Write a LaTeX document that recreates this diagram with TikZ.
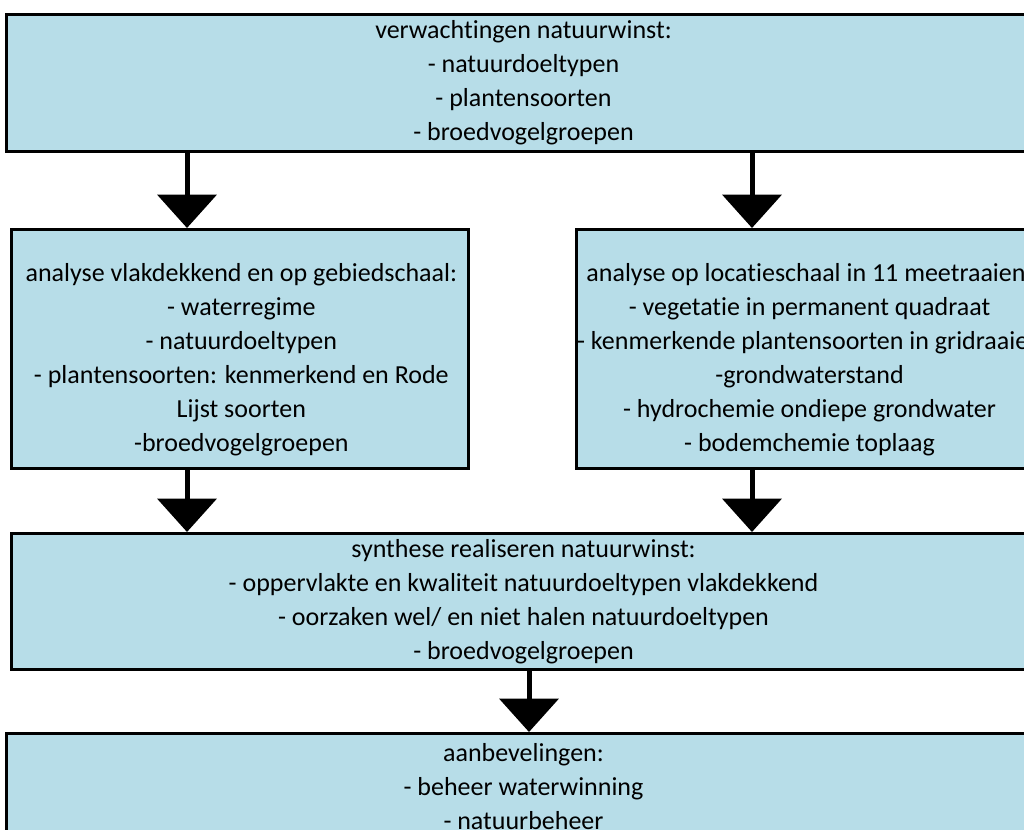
\documentclass[tikz,border=0pt]{standalone}
\usepackage{fontspec}
\setmainfont{Carlito}[Ligatures=CommonOff]
\usetikzlibrary{arrows.meta}
\definecolor{boxblue}{HTML}{B7DDE8}
\tikzset{
  frame/.style={draw=black, line width=2.25pt, fill=boxblue, anchor=north west, inner sep=0pt},
  boxtxt/.style={align=center, inner sep=0pt, font=\fontsize{19.5pt}{25.6pt}\selectfont},
  flow/.style={line width=3.75pt, -{Triangle[length=25pt,width=44pt]}},
}
\begin{document}
\begin{tikzpicture}[x=0.75pt,y=-0.75pt]
\useasboundingbox (0,0) rectangle (1024,829);
\clip (0,0) rectangle (1024,829);
% frames
\node[frame, minimum width=775.5pt, minimum height=102.75pt] (goal) at (5,13) {};
\node[frame, minimum width=342.75pt, minimum height=179.25pt] (area) at (10,228) {};
\node[frame, minimum width=349.5pt, minimum height=179.25pt] (site) at (575,228) {};
\node[frame, minimum width=768pt, minimum height=102pt] (synth) at (10,532) {};
\node[frame, minimum width=775.5pt, minimum height=78pt] (advice) at (5,732) {};
% texts
\node[boxtxt] (goaltxt) at (goal.center)
  {verwachtingen natuurwinst:\\- natuurdoeltypen\\- plantensoorten\\- broedvogelgroepen};
\node[boxtxt] (areatxt) at ([xshift=1pt,yshift=-8pt]area.center)
  {analyse vlakdekkend en op gebiedschaal:\\- waterregime\\- natuurdoeltypen\\
   - plantensoorten: kenmerkend en Rode\\Lijst soorten\\-broedvogelgroepen};
\node[boxtxt] (sitetxt) at ([yshift=-8pt]site.center)
  {analyse op locatieschaal in 11 meetraaien:\\- vegetatie in permanent quadraat\\
   - kenmerkende plantensoorten in gridraaien\\-grondwaterstand\\
   - hydrochemie ondiepe grondwater\\- bodemchemie toplaag};
\node[boxtxt] (synthtxt) at (synth.center)
  {synthese realiseren natuurwinst:\\- oppervlakte en kwaliteit natuurdoeltypen vlakdekkend\\
   - oorzaken wel/ en niet halen natuurdoeltypen\\- broedvogelgroepen};
\node[boxtxt] (advicetxt) at ([yshift=-1pt]advice.center)
  {aanbevelingen:\\- beheer waterwinning\\- natuurbeheer};
% arrows
\coordinate (lcol) at (187,0);
\coordinate (rcol) at (752,0);
\coordinate (mcol) at (529,0);
\draw[flow] (goal.south -| lcol) -- (area.north -| lcol);
\draw[flow] (goal.south -| rcol) -- (site.north -| rcol);
\draw[flow] (area.south -| lcol) -- (synth.north -| lcol);
\draw[flow] (site.south -| rcol) -- (synth.north -| rcol);
\draw[flow] (synth.south -| mcol) -- (advice.north -| mcol);
\end{tikzpicture}
\end{document}
